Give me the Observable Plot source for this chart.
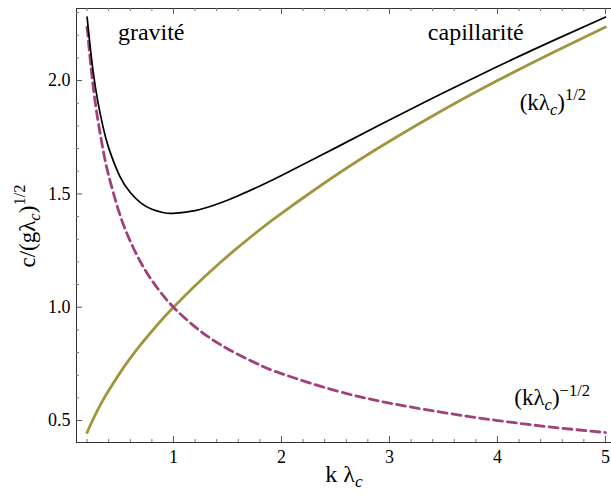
<!DOCTYPE html>
<html>
<head>
<meta charset="utf-8">
<script src="https://cdn.jsdelivr.net/npm/d3@7"></script>
<script src="https://cdn.jsdelivr.net/npm/@observablehq/plot@0.6"></script>
<style>
  body { margin: 0; background: #fff; }
  #chart svg { display: block; }
  #chart svg, #chart svg text, #chart svg tspan { font-family: "Liberation Serif", "Times New Roman", serif !important; }
</style>
</head>
<body>
<div id="chart"></div>
<script>
// k·λc sample positions
const kLambda = [0.2, 0.25, 0.3, 0.35, 0.4, 0.5, 0.6, 0.7, 0.8, 0.9, 1.0, 1.2, 1.4, 1.6, 1.8, 2.0, 2.5, 3.0, 3.5, 4.0, 4.5, 5.0];
// black curve: total phase speed
const totalSpeed = [2.28, 2.062, 1.906, 1.791, 1.703, 1.581, 1.506, 1.459, 1.432, 1.418, 1.414, 1.426, 1.454, 1.492, 1.535, 1.581, 1.703, 1.826, 1.946, 2.062, 2.173, 2.28];
// olive curve: (kλc)^(1/2), capillarity branch
const capillaryBranch = [0.447, 0.5, 0.548, 0.592, 0.632, 0.707, 0.775, 0.837, 0.894, 0.949, 1.0, 1.095, 1.183, 1.265, 1.342, 1.414, 1.581, 1.732, 1.871, 2.0, 2.121, 2.236];
// magenta dashed curve: (kλc)^(-1/2), gravity branch
const gravityBranch = [2.236, 2.0, 1.826, 1.69, 1.581, 1.414, 1.291, 1.195, 1.118, 1.054, 1.0, 0.913, 0.845, 0.791, 0.745, 0.707, 0.632, 0.577, 0.535, 0.5, 0.471, 0.447];

const xTicks = [1, 2, 3, 4, 5];
const yTicks = [0.5, 1.0, 1.5, 2.0];
const xMinorTicks = [0.2, 0.4, 0.6, 0.8, 1.2, 1.4, 1.6, 1.8, 2.2, 2.4, 2.6, 2.8, 3.2, 3.4, 3.6, 3.8, 4.2, 4.4, 4.6, 4.8];
const yMinorTicks = [0.6, 0.7, 0.8, 0.9, 1.1, 1.2, 1.3, 1.4, 1.6, 1.7, 1.8, 1.9, 2.1, 2.2, 2.3];

const xDomain = [0.102, 5.056];
const yDomain = [0.403, 2.318];

const rows = kLambda.map((k, i) => ({k, total: totalSpeed[i], cap: capillaryBranch[i], grav: gravityBranch[i]}));

const W = 611, H = 496, mL = 76, mR = 0, mT = 8, mB = 54;
const innerH = H - mT - mB, innerW = W - mL - mR;
const olive = "#a0963f";
const magenta = "#a2407a";

const plot = Plot.plot({
  width: W, height: H,
  marginLeft: mL, marginRight: mR, marginTop: mT, marginBottom: mB,
  style: {fontSize: "17px", color: "#000", background: "#fff"},
  x: {domain: xDomain},
  y: {domain: yDomain},
  marks: [
    Plot.ruleX([xDomain[0]], {stroke: "#333", strokeWidth: 1}),
    Plot.ruleY([yDomain[0]], {stroke: "#333", strokeWidth: 1}),
    Plot.ruleY([yDomain[1]], {stroke: "#333", strokeWidth: 1}),
    Plot.ruleX(xTicks, {insetTop: innerH - 6, stroke: "#555"}),
    Plot.ruleX(xTicks, {insetBottom: innerH - 6, stroke: "#555"}),
    Plot.ruleX(xMinorTicks, {insetTop: innerH - 3, stroke: "#777"}),
    Plot.ruleX(xMinorTicks, {insetBottom: innerH - 3, stroke: "#777"}),
    Plot.ruleY(yTicks, {insetRight: innerW - 6, stroke: "#555"}),
    Plot.ruleY(yMinorTicks, {insetRight: innerW - 3, stroke: "#777"}),
    Plot.line(rows, {x: "k", y: "cap", stroke: olive, strokeWidth: 2.8, curve: "natural"}),
    Plot.line(rows, {x: "k", y: "grav", stroke: magenta, strokeWidth: 2.8, strokeDasharray: "9,5", curve: "natural"}),
    Plot.line(rows, {x: "k", y: "total", stroke: "#000", strokeWidth: 1.7, curve: "natural"}),
    Plot.axisX({ticks: xTicks, tickSize: 0, tickPadding: 8, tickFormat: d3.format("d"), label: null, fontSize: 18}),
    Plot.axisY({ticks: yTicks, tickSize: 0, tickPadding: 6, tickFormat: d3.format(".1f"), label: null, fontSize: 18})
  ]
});

document.getElementById("chart").appendChild(plot);

const svg = d3.select(plot);
const sx = plot.scale("x"), sy = plot.scale("y");

function mathLabel(g, parts, size) {
  const t = g.append("text").style("font-size", size + "px").attr("fill", "#000");
  let shift = 0;
  for (const p of parts) {
    const span = t.append("tspan").text(p.t);
    const target = p.sub ? size * 0.22 : p.sup ? -size * 0.42 : 0;
    if (target !== shift) { span.attr("dy", target - shift); shift = target; }
    if (p.italic) span.style("font-style", "italic");
    if (p.sub || p.sup) span.style("font-size", (size * 0.72) + "px");
  }
  return t;
}

const ann = svg.append("g").attr("text-anchor", "start");
ann.append("text").attr("x", sx.apply(0.49)).attr("y", 40).style("font-size", "24px").text("gravité");
ann.append("text").attr("x", sx.apply(3.36)).attr("y", 40).style("font-size", "24px").text("capillarité");

mathLabel(ann, [{t: "(kλ"}, {t: "c", italic: true, sub: true}, {t: ")"}, {t: "1/2", sup: true}], 23)
  .attr("x", sx.apply(4.21)).attr("y", sy.apply(1.868));
mathLabel(ann, [{t: "(kλ"}, {t: "c", italic: true, sub: true}, {t: ")"}, {t: "−1/2", sup: true}], 23)
  .attr("x", sx.apply(4.16)).attr("y", sy.apply(0.565));

mathLabel(ann, [{t: "k λ"}, {t: "c", italic: true, sub: true}], 24)
  .attr("text-anchor", "middle")
  .attr("x", 344).attr("y", 482);

mathLabel(ann, [{t: "c/(gλ"}, {t: "c", italic: true, sub: true}, {t: ")"}, {t: "1/2", sup: true}], 23)
  .attr("text-anchor", "middle")
  .attr("transform", `translate(35,${mT + innerH / 2 + 1}) rotate(-90)`);
</script>
</body>
</html>
